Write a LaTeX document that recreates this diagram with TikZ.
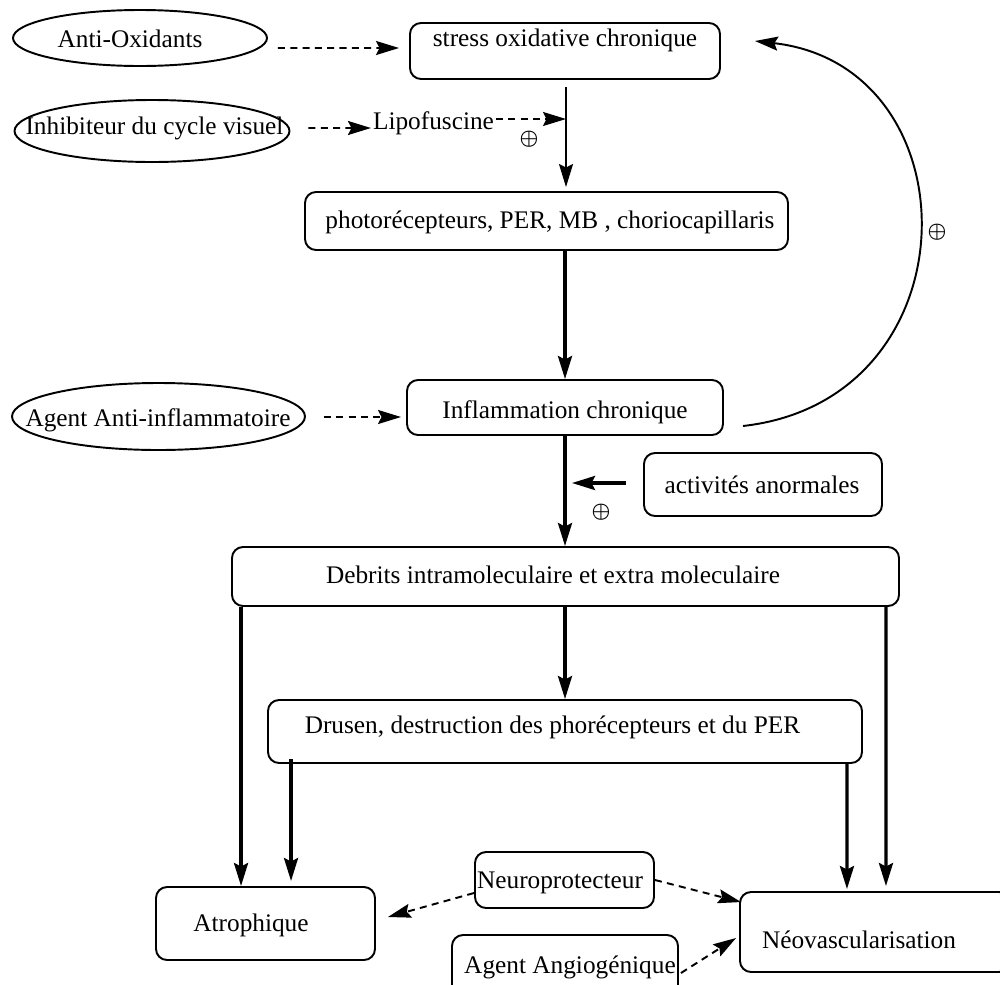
\documentclass[tikz,border=0pt]{standalone}
\usepackage{amsmath}
\usepackage{fontspec}
\setmainfont{Liberation Serif}
\usetikzlibrary{arrows.meta,shapes.geometric}
\begin{document}
\begin{tikzpicture}
	[	box/.style={rectangle,rounded corners=0.22cm,draw=black,line width=1.1pt},
	oval/.style={ellipse,draw=black,line width=1.1pt},
	plain/.style={draw=none,fill=none,inner sep=1pt,font=\fontsize{14.4}{17}\selectfont},
	plus/.style={draw=none,fill=none,inner sep=0pt,font=\fontsize{12}{14}\selectfont},
	arr/.style={-{Stealth[length=0.46cm,width=0.28cm,inset=0.07cm]},line width=1.1pt},
	thickarr/.style={-{Stealth[length=0.46cm,width=0.28cm,inset=0.07cm]},line width=1.9pt},
	dasharr/.style={-{Stealth[length=0.46cm,width=0.28cm,inset=0.07cm]},line width=1.1pt,dash pattern=on 4pt off 3pt},
	]
	\useasboundingbox (0,0) rectangle (20,-19.68);

	\node[oval,name=antiox,minimum width=5.08cm,minimum height=1.12cm] at (2.80,-0.76){};
	\node[oval,name=inhib,minimum width=5.5cm,minimum height=1.24cm] at (3.04,-2.62){};
	\node[oval,name=agentinf,minimum width=5.86cm,minimum height=1.34cm] at (3.17,-8.33){};
	\node[plain,name=antioxtxt] at (2.60,-0.78) {Anti-Oxidants};
	\node[plain,name=inhibtxt] at (3.09,-2.56) {Inhibiteur du cycle visuel};
	\node[plain,name=agentinftxt] at (3.16,-8.40) {Agent Anti-inflammatoire};

	\node[box,name=stress,minimum width=6.2cm,minimum height=1.12cm] at (11.30,-1.02){};
	\node[box,name=photo,minimum width=9.66cm,minimum height=1.16cm] at (10.93,-4.42){};
	\node[box,name=infl,minimum width=6.32cm,minimum height=1.10cm] at (11.30,-8.15){};
	\node[box,name=activ,minimum width=4.76cm,minimum height=1.26cm] at (15.26,-9.69){};
	\node[box,name=debrits,minimum width=13.34cm,minimum height=1.18cm] at (11.31,-11.53){};
	\node[box,name=drusen,minimum width=11.88cm,minimum height=1.26cm] at (11.30,-14.63){};
	\node[box,name=atroph,minimum width=4.38cm,minimum height=1.46cm] at (5.31,-18.47){};
	\node[box,name=neo,minimum width=5.40cm,minimum height=1.60cm] at (17.50,-18.64){};
	\node[box,name=neuro,minimum width=3.58cm,minimum height=1.12cm] at (11.29,-17.60){};
	\node[box,name=angio,minimum width=4.52cm,minimum height=1.24cm] at (11.30,-19.32){};

	\node[plain,name=stresstxt] at (11.30,-0.80) {stress oxidative chronique};
	\node[plain,name=phototxt] at (11.00,-4.44) {photorécepteurs, PER, MB , choriocapillaris};
	\node[plain,name=infltxt] at (11.30,-8.25) {Inflammation chronique};
	\node[plain,name=activtxt] at (15.24,-9.70) {activités anormales};
	\node[plain,name=debritstxt] at (11.06,-11.50) {Debrits intramoleculaire et extra moleculaire};
	\node[plain,name=drusentxt] at (11.05,-14.54) {Drusen, destruction des phorécepteurs et du PER};
	\node[plain,name=atrophtxt] at (5.02,-18.50) {Atrophique};
	\node[plain,name=neotxt] at (17.18,-18.80) {Néovascularisation};
	\node[plain,name=neurotxt] at (11.20,-17.66) {Neuroprotecteur};
	\node[plain,name=angiotxt] at (11.40,-19.34) {Agent Angiogénique};
	\node[plain,name=lipo] at (8.67,-2.46) {Lipofuscine};

	\node[plus,name=plus1] at (10.58,-2.78) {$\boldsymbol{\oplus}$};
	\node[plus,name=plus2] at (18.74,-4.64) {$\boldsymbol{\oplus}$};
	\node[plus,name=plus3] at (12.02,-10.24) {$\boldsymbol{\oplus}$};

	\coordinate (lipjoin) at (11.32,-2.38);

	\draw[dasharr] ([shift={(0.2,-0.2)}]antiox.east) -- ([shift={(-0.2,0.06)}]stress.west);
	\draw[dasharr] ([shift={(0.36,0.06)}]inhib.east) -- ([yshift=-0.1cm]lipo.west);
	\draw[dasharr] ([yshift=0.08cm]lipo.east) -- (lipjoin);
	\draw[arr] ([shift={(0.02,-0.14)}]stress.south) -- ([shift={(0.02,0.08)}]stress.south |- photo.north);
	\draw[thickarr] (infl.north |- photo.south) -- (infl.north);
	\draw[dasharr] ([shift={(0.36,-0.01)}]agentinf.east) -- ([shift={(-0.1,-0.19)}]infl.west);
	\draw[arr] ([shift={(0.38,-0.37)}]infl.east) .. controls (19.52,-8.0) and (19.52,-1.32) .. ([shift={(0.68,0.2)}]stress.east);
	\draw[thickarr] (infl.south) -- (infl.south |- debrits.north);
	\draw[thickarr] ([shift={(-0.34,0.03)}]activ.west) -- ([shift={(0.14,0.03)}]infl.south |- activ.west);
	\draw[thickarr] ([xshift=0.2cm]debrits.south west) -- ([xshift=0.2cm]debrits.south west |- atroph.north);
	\draw[thickarr] (drusen.north |- debrits.south) -- (drusen.north);
	\draw[thickarr] ([xshift=-0.28cm]debrits.south east) -- ([shift={(-0.28,0.1)}]debrits.south east |- neo.north);
	\draw[thickarr] ([shift={(0.48,0.1)}]drusen.south west) -- ([shift={(0.48,0.1)}]drusen.south west |- atroph.north);
	\draw[thickarr] ([xshift=-0.32cm]drusen.south east) -- ([shift={(-0.32,0.04)}]drusen.south east |- neo.north);
	\draw[dasharr] ([yshift=-0.26cm]neuro.west) -- ([shift={(0.24,0.13)}]atroph.east);
	\draw[dasharr] (neuro.east) -- ([shift={(0.04,-0.22)}]neo.north west);
	\draw[dasharr] ([shift={(0.04,-0.14)}]angio.east) -- ([shift={(-0.06,-0.12)}]neo.west);
\end{tikzpicture}
\end{document}
